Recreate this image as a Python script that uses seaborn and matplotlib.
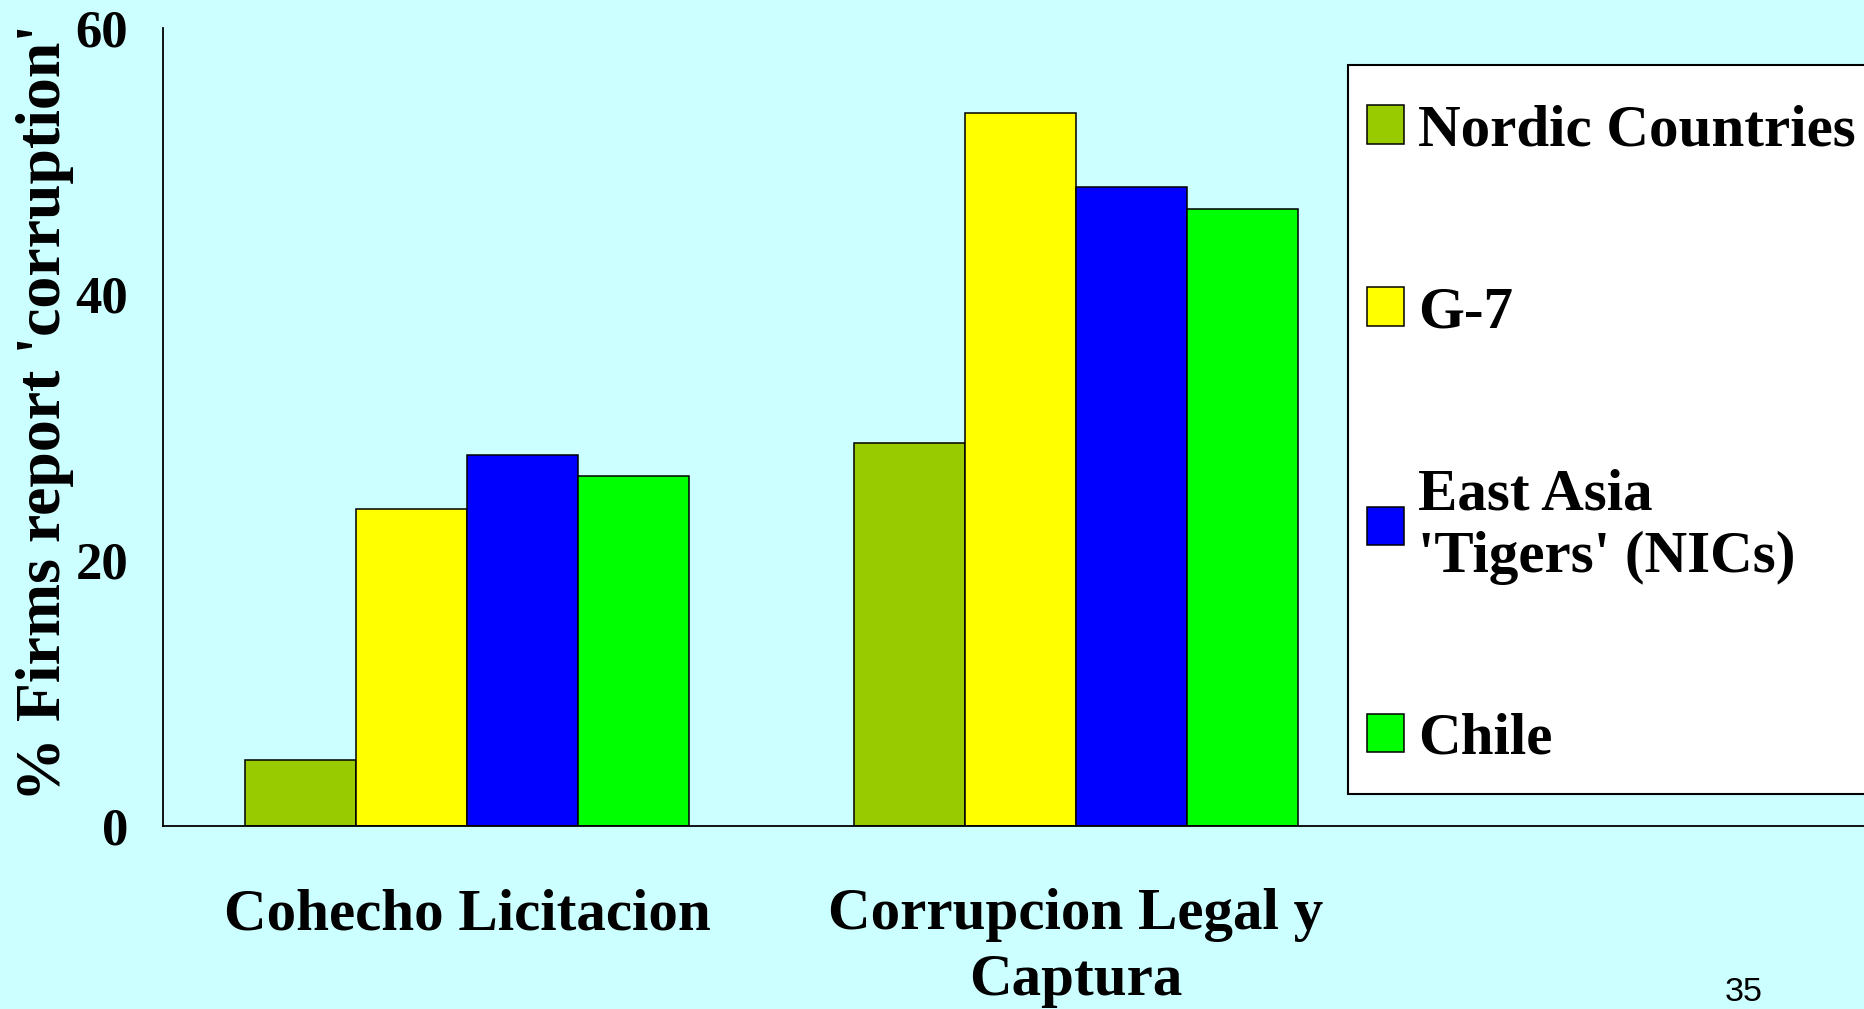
import pandas as pd
import matplotlib.pyplot as plt
import seaborn as sns
from matplotlib.patches import Rectangle

# Data
categories = ['Cohecho Licitacion', 'Corrupcion Legal y\nCaptura']
groups = ['Nordic Countries', 'G-7', "East Asia\n'Tigers' (NICs)", 'Chile']
nordic = [4.9, 28.8]
g7 = [23.8, 53.6]
east_asia = [27.9, 48.0]
chile = [26.3, 46.4]
colors = ['#99CC00', '#FFFF00', '#0000FF', '#00FF00']

rows = []
for g, vals in zip(groups, [nordic, g7, east_asia, chile]):
    for c, v in zip(categories, vals):
        rows.append({'category': c, 'group': g, 'value': v})
df = pd.DataFrame(rows)

sns.set_style('white')
plt.rcParams['font.family'] = ['Liberation Serif', 'DejaVu Serif']
plt.rcParams['font.weight'] = 'bold'
plt.rcParams['axes.labelweight'] = 'bold'
plt.rcParams['text.color'] = 'black'
plt.rcParams['axes.labelcolor'] = 'black'
plt.rcParams['xtick.color'] = 'black'
plt.rcParams['ytick.color'] = 'black'

bg = '#CCFFFF'
fig = plt.figure(figsize=(18.64, 10.09), dpi=100, facecolor=bg)
ax = fig.add_axes([0.0873, 0.1818, 0.98, 0.7908], facecolor=bg)

sns.barplot(data=df, x='category', y='value', hue='group', order=categories,
            hue_order=groups, palette=dict(zip(groups, colors)), width=0.73,
            edgecolor='black', linewidth=1.1, saturation=1, ax=ax)

ax.set_xlim(-0.5, 2.5)
ax.set_ylim(0, 60)
ax.set_yticks([0, 20, 40, 60])
ax.tick_params(axis='y', labelsize=38, length=11, width=1.1, pad=14,
               direction='out', colors='black')
ax.set_xticks([0, 1])
ax.set_xticklabels(categories, fontsize=42.5, fontweight='bold', linespacing=1.3)
ax.tick_params(axis='x', which='major', length=0, pad=45, labelcolor='black')
ax.set_xticks([-0.5, 0.5, 1.5, 2.5], minor=True)
ax.tick_params(axis='x', which='minor', length=10, width=1.1, direction='out',
               color='black')

ax.set_xlabel('')
ax.set_ylabel("% Firms report 'corruption'", fontsize=46, fontweight='bold')
ax.yaxis.set_label_coords(-0.0488, 0.518)

for s in ['top', 'right']:
    ax.spines[s].set_visible(False)
for s in ['left', 'bottom']:
    ax.spines[s].set_color('black')
    ax.spines[s].set_linewidth(1.3)

# legend box (white, black edge), runs off the right edge like the slide
fig.patches.append(Rectangle((1348 / 1864, 1 - 794 / 1009), 0.3, (794 - 65) / 1009,
                             transform=fig.transFigure, facecolor='white',
                             edgecolor='black', linewidth=1.5, zorder=1))

handles, labels = ax.get_legend_handles_labels()
if ax.get_legend() is not None:
    ax.get_legend().remove()
leg = fig.legend(handles, labels, loc='upper left',
                 bbox_to_anchor=(0.7334, 0.8967), borderaxespad=0,
                 fontsize=42.5, frameon=False, borderpad=0,
                 handlelength=0.62, handleheight=0.62, handletextpad=0.25,
                 labelspacing=2.17)
for t in leg.get_texts():
    t.set_fontweight('bold')
    t.set_color('black')

fig.text(1744 / 1864, 1 - 992.5 / 1009, '35', ha='center', va='center',
         fontsize=24.5, fontweight='normal', family='Liberation Sans')

plt.savefig('out.png', dpi=100, facecolor=bg)
